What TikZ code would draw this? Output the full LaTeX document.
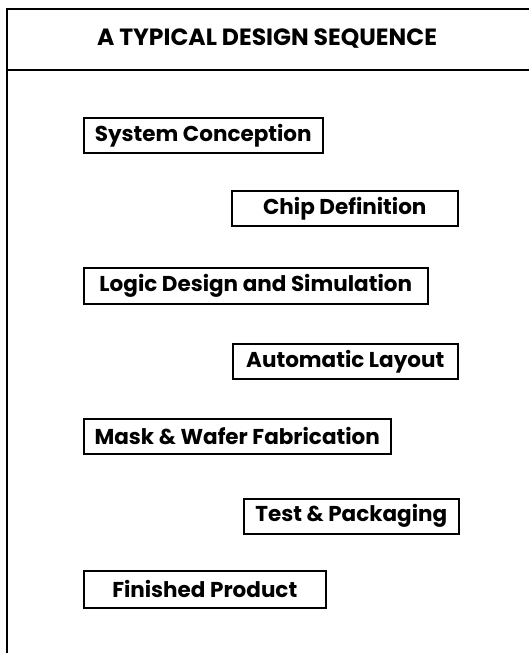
\documentclass[tikz,border=0pt]{standalone}
\usepackage{fontspec}
\newfontfamily\geofont{Poppins Bold}
\begin{document}
\begin{tikzpicture}[x=1pt,y=-1pt]
\tikzset{
  frameline/.style={line width=1.8pt},
  stepbox/.style={draw, line width=1.5pt, anchor=north west, inner sep=0pt,
    font=\geofont\fontsize{21.5}{24}\selectfont},
}
\useasboundingbox (0,0) rectangle (529,653);
\draw[frameline] (7,653) -- (7,9) -- (531,9);
\draw[frameline] (7,70) -- (531,70);
\node[font=\geofont\fontsize{23.5}{26}\selectfont] (title) at (267,39) {A TYPICAL DESIGN SEQUENCE};
\node[stepbox, minimum width=239pt, minimum height=35pt] (sys) at (83,117) {System Conception};
\node[stepbox, minimum width=226pt, minimum height=35pt] (chip) at (231,190) {Chip Definition};
\node[stepbox, minimum width=344pt, minimum height=36pt] (logic) at (83,267) {Logic Design and Simulation};
\node[stepbox, minimum width=225pt, minimum height=35pt] (layout) at (232,343) {Automatic Layout};
\node[stepbox, minimum width=307pt, minimum height=35pt] (mask) at (83,418) {Mask \& Wafer Fabrication};
\node[stepbox, minimum width=215pt, minimum height=35pt] (test) at (243,498) {Test \& Packaging};
\node[stepbox, minimum width=242pt, minimum height=37pt] (fin) at (83,570) {Finished Product};
\end{tikzpicture}
\end{document}
